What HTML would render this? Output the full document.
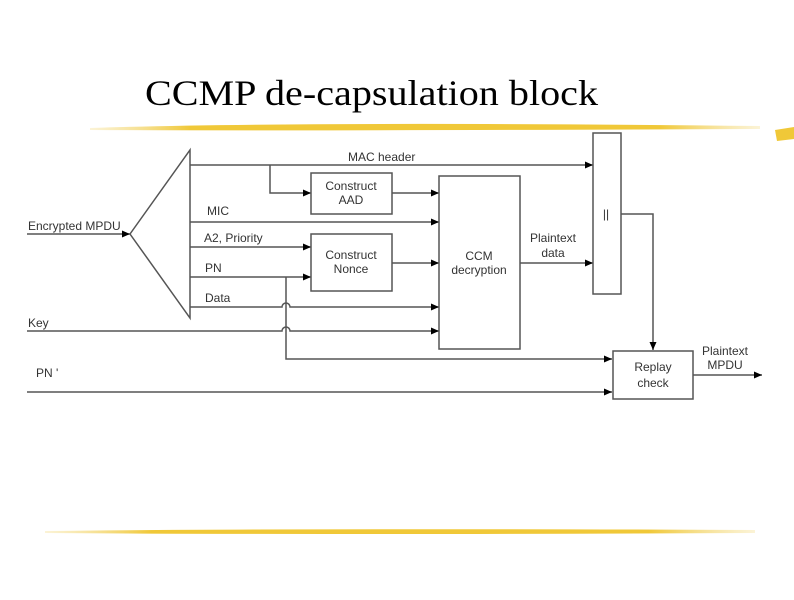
<!DOCTYPE html>
<html><head><meta charset="utf-8"><style>body{margin:0;background:#fff}</style></head>
<body>
<svg width="794" height="595" viewBox="0 0 794 595" xmlns="http://www.w3.org/2000/svg">
<defs>
<marker id="a" markerWidth="8" markerHeight="8" refX="8" refY="4" orient="auto" markerUnits="userSpaceOnUse"><path d="M0,0.5 L8,4 L0,7.5z" fill="#000"/></marker>
<linearGradient id="y" x1="0" x2="1"><stop offset="0" stop-color="#f3d878" stop-opacity="0.3"/><stop offset="0.15" stop-color="#f0c838"/><stop offset="0.85" stop-color="#f0c838"/><stop offset="1" stop-color="#f3d878" stop-opacity="0.3"/></linearGradient>
</defs>
<text x="145" y="105" font-family="Liberation Serif,serif" font-size="36" textLength="453" lengthAdjust="spacingAndGlyphs">CCMP de-capsulation block</text>
<path d="M90,128 Q300,121 760,126 L760,129 Q300,131 90,130z" fill="url(#y)"/>
<path d="M775,130 L794,127 L794,139 L777,141z" fill="#f0c838"/>
<path d="M45,531 Q300,528 755,530 L755,533 Q300,535 45,533z" fill="url(#y)"/>
<g stroke="#555" stroke-width="1.5" fill="none">
<path d="M27,234 H130" marker-end="url(#a)"/>
<path d="M130,234 L190,150 V318 Z" fill="#fff"/>
<path d="M190,165 H593" marker-end="url(#a)"/>
<path d="M270,165 V193 H311" marker-end="url(#a)"/>
<rect x="311" y="173" width="81" height="41"/>
<path d="M392,193 H439" marker-end="url(#a)"/>
<path d="M190,222 H439" marker-end="url(#a)"/>
<path d="M190,247 H311" marker-end="url(#a)"/>
<path d="M190,277 H311" marker-end="url(#a)"/>
<rect x="311" y="234" width="81" height="57"/>
<path d="M392,263 H439" marker-end="url(#a)"/>
<path d="M190,307 H282 A4,4 0 0 1 290,307 H439" marker-end="url(#a)"/>
<path d="M27,331 H282 A4,4 0 0 1 290,331 H439" marker-end="url(#a)"/>
<path d="M286,277 V359 H612" marker-end="url(#a)"/>
<path d="M27,392 H612" marker-end="url(#a)"/>
<rect x="439" y="176" width="81" height="173"/>
<path d="M520,263 H593" marker-end="url(#a)"/>
<rect x="593" y="133" width="28" height="161"/>
<path d="M621,214 H653 V350" marker-end="url(#a)"/>
<rect x="613" y="351" width="80" height="48"/>
<path d="M693,375 H762" marker-end="url(#a)"/>
</g>
<g font-family="Liberation Sans,sans-serif" font-size="12" fill="#333">
<text x="348" y="161">MAC header</text>
<text x="28" y="230">Encrypted MPDU</text>
<text x="207" y="215">MIC</text>
<text x="204" y="242">A2, Priority</text>
<text x="205" y="272">PN</text>
<text x="205" y="302">Data</text>
<text x="28" y="327">Key</text>
<text x="36" y="377">PN '</text>
<g text-anchor="middle">
<text x="351" y="190">Construct</text><text x="351" y="204">AAD</text>
<text x="351" y="259">Construct</text><text x="351" y="273">Nonce</text>
<text x="479" y="260">CCM</text><text x="479" y="274">decryption</text>
<text x="553" y="242">Plaintext</text><text x="553" y="257">data</text>
<text x="606" y="218">||</text>
<text x="653" y="371">Replay</text><text x="653" y="387">check</text>
<text x="725" y="355">Plaintext</text><text x="725" y="369">MPDU</text>
</g>
</g>
</svg>
</body></html>
